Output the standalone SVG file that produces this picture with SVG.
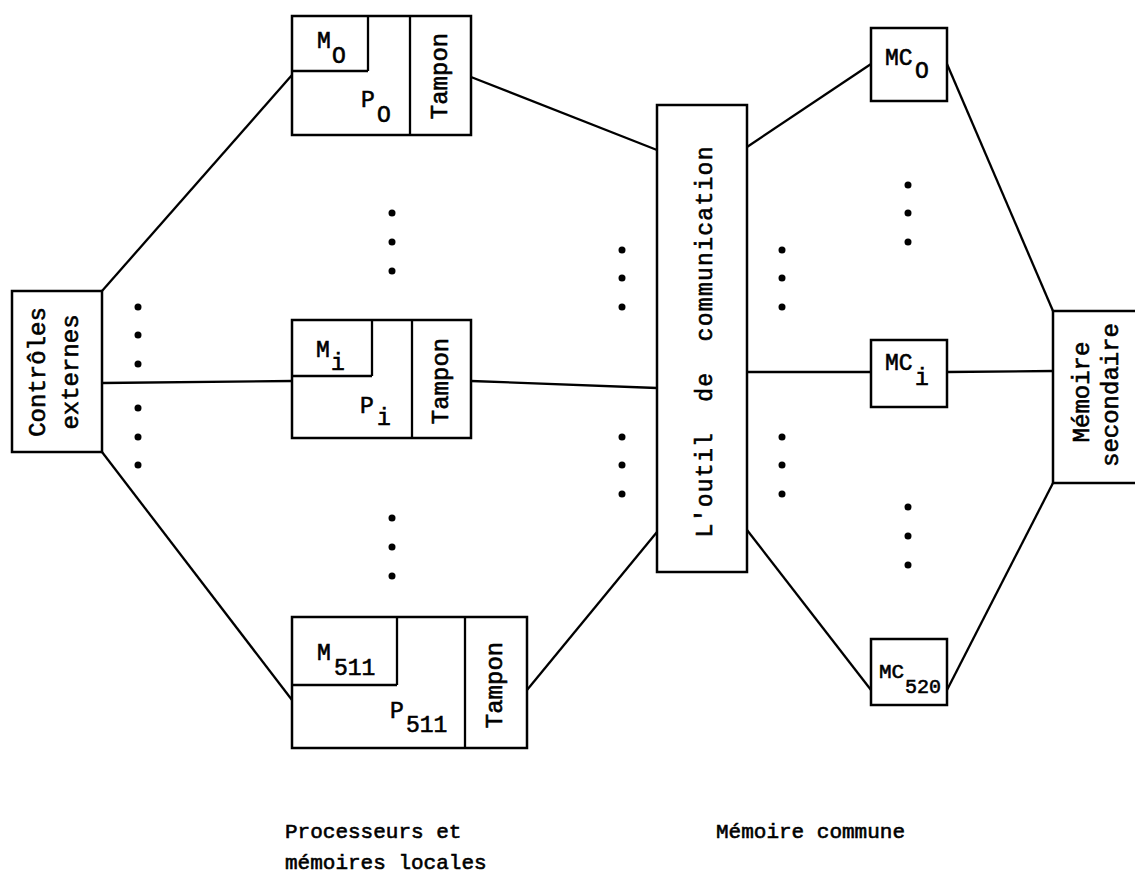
<svg xmlns="http://www.w3.org/2000/svg" width="1135" height="887" viewBox="0 0 1135 887">
<style>
.box{fill:#fff;stroke:#000;stroke-width:2.5}
.ln{fill:none;stroke:#000;stroke-width:2.3}
.t{font-family:"Liberation Mono","Courier New",monospace;fill:#000;stroke:#000;stroke-width:0.6}
.lbl{font-size:23px}
.sub{font-size:23px}
.rot{font-size:24px;text-anchor:middle;dominant-baseline:central}
.cap{font-size:21px}
.dot{fill:#000}
</style>
<rect width="1135" height="887" fill="#fff"/>
<g id="connectors">
<line class="ln" x1="102" y1="291" x2="292" y2="75"/>
<line class="ln" x1="102" y1="383" x2="292" y2="381"/>
<line class="ln" x1="102" y1="452" x2="292" y2="700"/>
<line class="ln" x1="471" y1="77" x2="657" y2="150"/>
<line class="ln" x1="471" y1="381" x2="657" y2="388"/>
<line class="ln" x1="527" y1="690" x2="657" y2="532"/>
<line class="ln" x1="747" y1="147" x2="871" y2="64"/>
<line class="ln" x1="747" y1="372" x2="871" y2="372"/>
<line class="ln" x1="747" y1="530" x2="871" y2="690"/>
<line class="ln" x1="947" y1="64" x2="1053" y2="311"/>
<line class="ln" x1="947" y1="372" x2="1053" y2="371"/>
<line class="ln" x1="947" y1="690" x2="1053" y2="483"/>
</g>
<g id="dots">
<circle class="dot" cx="138" cy="307" r="3.5"/><circle class="dot" cx="138" cy="335" r="3.5"/><circle class="dot" cx="138" cy="364" r="3.5"/>
<circle class="dot" cx="138" cy="408" r="3.5"/><circle class="dot" cx="138" cy="437" r="3.5"/><circle class="dot" cx="138" cy="465" r="3.5"/>
<circle class="dot" cx="392" cy="213" r="3.5"/><circle class="dot" cx="392" cy="242" r="3.5"/><circle class="dot" cx="392" cy="271" r="3.5"/>
<circle class="dot" cx="392" cy="518" r="3.5"/><circle class="dot" cx="392" cy="547" r="3.5"/><circle class="dot" cx="392" cy="576" r="3.5"/>
<circle class="dot" cx="622" cy="250" r="3.5"/><circle class="dot" cx="622" cy="278" r="3.5"/><circle class="dot" cx="622" cy="307" r="3.5"/>
<circle class="dot" cx="622" cy="437" r="3.5"/><circle class="dot" cx="622" cy="465" r="3.5"/><circle class="dot" cx="622" cy="494" r="3.5"/>
<circle class="dot" cx="782" cy="250" r="3.5"/><circle class="dot" cx="782" cy="278" r="3.5"/><circle class="dot" cx="782" cy="307" r="3.5"/>
<circle class="dot" cx="782" cy="437" r="3.5"/><circle class="dot" cx="782" cy="465" r="3.5"/><circle class="dot" cx="782" cy="494" r="3.5"/>
<circle class="dot" cx="908" cy="185" r="3.5"/><circle class="dot" cx="908" cy="213" r="3.5"/><circle class="dot" cx="908" cy="242" r="3.5"/>
<circle class="dot" cx="908" cy="507" r="3.5"/><circle class="dot" cx="908" cy="536" r="3.5"/><circle class="dot" cx="908" cy="565" r="3.5"/>
</g>
<g id="controles">
<rect class="box" x="12" y="291" width="90" height="161"/>
<text class="t rot" transform="translate(38,372) rotate(-90)">Contrôles</text>
<text class="t rot" transform="translate(71,372) rotate(-90)">externes</text>
</g>
<g id="proc0">
<rect class="box" x="292" y="16" width="179" height="119"/>
<line class="ln" x1="292" y1="71" x2="368" y2="71"/><line class="ln" x1="368" y1="16" x2="368" y2="71"/>
<line class="ln" x1="410" y1="16" x2="410" y2="135"/>
<text class="t lbl" x="317" y="48">M</text><text class="t sub" x="332" y="63">O</text>
<text class="t lbl" x="361" y="107">P</text><text class="t sub" x="377" y="122">O</text>
<text class="t rot" transform="translate(440,76) rotate(-90)">Tampon</text>
</g>
<g id="proci">
<rect class="box" x="292" y="320" width="179" height="118"/>
<line class="ln" x1="292" y1="376" x2="372" y2="376"/><line class="ln" x1="372" y1="320" x2="372" y2="376"/>
<line class="ln" x1="412" y1="320" x2="412" y2="438"/>
<text class="t lbl" x="316" y="357">M</text><text class="t sub" x="331" y="370">i</text>
<text class="t lbl" x="360" y="413">P</text><text class="t sub" x="377" y="425">i</text>
<text class="t rot" transform="translate(441,381) rotate(-90)">Tampon</text>
</g>
<g id="proc511">
<rect class="box" x="292" y="617" width="235" height="131"/>
<line class="ln" x1="292" y1="685" x2="397" y2="685"/><line class="ln" x1="397" y1="617" x2="397" y2="685"/>
<line class="ln" x1="465" y1="617" x2="465" y2="748"/>
<text class="t lbl" x="317" y="660">M</text><text class="t sub" x="334" y="675">511</text>
<text class="t lbl" x="390" y="718">P</text><text class="t sub" x="406" y="732">511</text>
<text class="t rot" transform="translate(495,685) rotate(-90)">Tampon</text>
</g>
<g id="outil">
<rect class="box" x="657" y="105" width="90" height="467"/>
<text class="t rot" style="font-size:23px" xml:space="preserve" textLength="391" lengthAdjust="spacing" transform="translate(706,342) rotate(-90)">L'outil  de  communication</text>
</g>
<g id="mc0">
<rect class="box" x="871" y="28" width="76" height="73"/>
<text class="t lbl" x="885" y="65">MC</text><text class="t sub" x="915" y="78">O</text>
</g>
<g id="mci">
<rect class="box" x="871" y="340" width="76" height="67"/>
<text class="t lbl" x="885" y="370">MC</text><text class="t sub" x="915" y="385">i</text>
</g>
<g id="mc520">
<rect class="box" x="871" y="639" width="76" height="66"/>
<text class="t lbl" style="font-size:21px" x="879" y="678">MC</text><text class="t sub" style="font-size:20px" x="905" y="693">520</text>
</g>
<g id="secondaire">
<rect class="box" x="1053" y="311" width="95" height="172"/>
<text class="t rot" transform="translate(1082,392) rotate(-90)">Mémoire</text>
<text class="t rot" transform="translate(1111,395) rotate(-90)">secondaire</text>
</g>
<g id="captions">
<text class="t cap" x="285" y="838">Processeurs et</text>
<text class="t cap" x="285" y="869">mémoires locales</text>
<text class="t cap" x="716" y="838">Mémoire commune</text>
</g>
</svg>
